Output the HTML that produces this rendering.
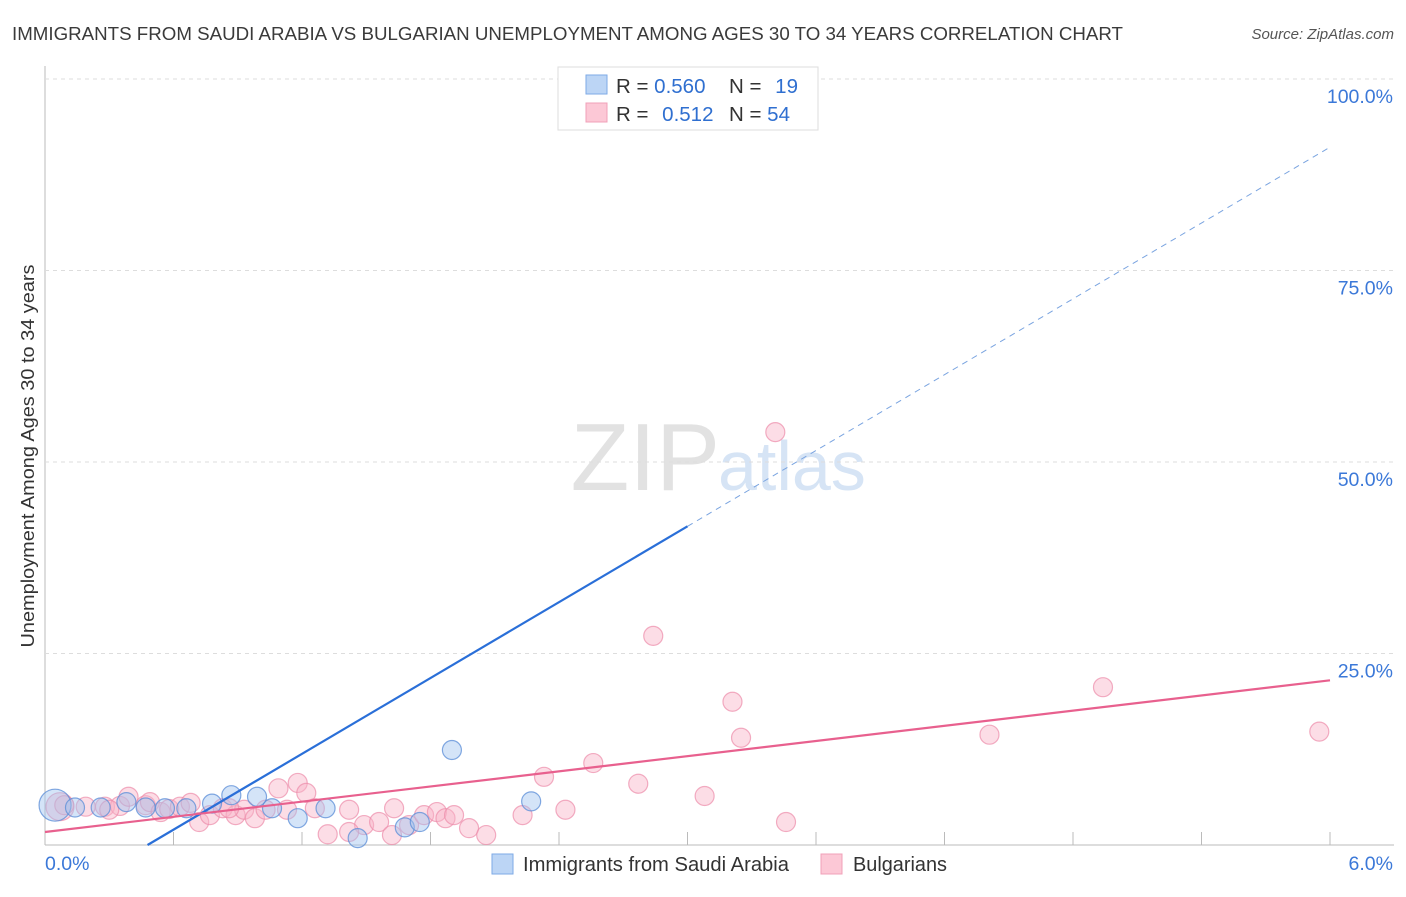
<!DOCTYPE html>
<html><head><meta charset="utf-8"><style>
body{margin:0;background:#fff;font-family:"Liberation Sans",sans-serif;}
svg text{font-family:"Liberation Sans",sans-serif;}
</style></head><body>
<svg id="c" width="1406" height="892">
<text x="12" y="40" font-size="18.5" fill="#3a3a3a" textLength="1111" lengthAdjust="spacingAndGlyphs">IMMIGRANTS FROM SAUDI ARABIA VS BULGARIAN UNEMPLOYMENT AMONG AGES 30 TO 34 YEARS CORRELATION CHART</text>
<text x="1394" y="39" font-size="15" fill="#555" font-style="italic" text-anchor="end">Source: ZipAtlas.com</text>
<text x="720" y="490" font-size="96" fill="#e2e2e2" text-anchor="end" font-family="Liberation Serif">ZIP</text>
<text x="718" y="490" font-size="70" fill="#d6e4f5">atlas</text>
<text transform="translate(34,456) rotate(-90)" font-size="18.5" fill="#333" text-anchor="middle" textLength="383" lengthAdjust="spacingAndGlyphs">Unemployment Among Ages 30 to 34 years</text>
<g id="grid"></g><g id="pts"></g><g id="lines"></g>
<g>
<rect x="558" y="67" width="260" height="63" fill="#fff" stroke="#ddd"/>
<rect x="586" y="75" width="21" height="19" fill="#bcd5f5" stroke="#7eaae6"/>
<rect x="586" y="103" width="21" height="19" fill="#fcc8d6" stroke="#f0a0b8"/>
<text x="616" y="93" font-size="20.5" fill="#333">R = <tspan fill="#2f6fd0">0.560</tspan></text>
<text x="729" y="93" font-size="20.5" fill="#333">N = <tspan fill="#2f6fd0" dx="8">19</tspan></text>
<text x="616" y="121" font-size="20.5" fill="#333">R = <tspan fill="#2f6fd0" dx="8">0.512</tspan></text>
<text x="729" y="121" font-size="20.5" fill="#333">N = <tspan fill="#2f6fd0">54</tspan></text>
</g>
<g>
<rect x="492" y="854" width="21" height="20" fill="#bcd5f5" stroke="#7eaae6"/>
<text x="523" y="871" font-size="20" fill="#333" textLength="266" lengthAdjust="spacingAndGlyphs">Immigrants from Saudi Arabia</text>
<rect x="821" y="854" width="21" height="20" fill="#fcc8d6" stroke="#f0a0b8"/>
<text x="853" y="871" font-size="20" fill="#333" textLength="94" lengthAdjust="spacingAndGlyphs">Bulgarians</text>
</g>
</svg>
<script>
const xTicks=[0,0.6,1.2,1.8,2.4,3.0,3.6,4.2,4.8,5.4,6.0];
const yTicks=[25,50,75,100];
const yTickLabels=["25.0%","50.0%","75.0%","100.0%"];
const xEndLabels=["0.0%","6.0%"];
const saudiX=[0.047,0.14,0.26,0.38,0.47,0.56,0.66,0.78,0.87,0.99,1.06,1.18,1.31,1.46,1.68,1.75,1.90,2.27,2.82];
const saudiY=[5.2,4.9,4.9,5.6,4.9,4.8,4.8,5.4,6.5,6.3,4.8,3.5,4.8,0.9,2.3,3.0,12.4,5.7,100];
const bulgX=[0.07,0.09,0.19,0.28,0.35,0.39,0.47,0.49,0.54,0.58,0.63,0.68,0.72,0.77,0.83,0.89,0.93,0.98,1.03,1.09,1.13,1.18,1.22,1.26,1.32,1.42,1.49,1.56,1.62,1.70,1.77,1.83,1.87,1.91,1.98,2.06,2.23,2.33,2.43,2.56,2.77,2.84,3.08,3.21,3.25,3.41,3.46,4.41,4.94,5.95,1.63,0.86,0.30,1.42];
const bulgY=[5.0,5.2,5.0,5.0,5.1,6.3,5.2,5.6,4.3,4.7,5.0,5.5,3.0,3.9,4.8,3.9,4.6,3.5,4.6,7.4,4.6,8.1,6.8,4.8,1.4,4.6,2.6,3.0,1.3,2.6,3.9,4.3,3.5,3.9,2.2,1.3,3.9,8.9,4.6,10.7,8.0,27.3,6.4,18.7,14.0,53.9,3.0,14.4,20.6,14.8,4.8,4.8,4.6,1.7];
const saudiTrend=[-7.9,16.5];
const bulgTrend=[1.7,3.3];
const X0=45,X1=1330,Y0=845,Y100=79;
const sx=v=>X0+(v/6)*(X1-X0);
const sy=v=>Y0-(v/100)*(Y0-Y100);
const NS="http://www.w3.org/2000/svg";
function mk(tag,attrs,parent){const e=document.createElementNS(NS,tag);for(const k in attrs)e.setAttribute(k,attrs[k]);parent.appendChild(e);return e;}
const grid=document.getElementById('grid');
let ax=mk('line',{x1:X0,y1:66,x2:X0,y2:Y0,stroke:'#bbb'},grid);


let bx=mk('line',{x1:X0,y1:Y0,x2:1394,y2:Y0,stroke:'#bbb'},grid);


yTicks.forEach((t,i)=>{
 let g=mk('line',{x1:X0,y1:sy(t),x2:1394,y2:sy(t),stroke:'#ddd','stroke-dasharray':'4,4'},grid);
 
 
 let l=mk('text',{x:1393,y:sy(t)+24,'font-size':19.5,fill:'#3b78d8','text-anchor':'end'},grid);
 l.textContent=yTickLabels[i];
 
 
});
xTicks.forEach((t,i)=>{
 if(i===0)return;
 let k=mk('line',{x1:sx(t),y1:Y0-13,x2:sx(t),y2:Y0,stroke:'#bbb'},grid);
 
 
});
let xl0=mk('text',{x:45,y:870,'font-size':19.5,fill:'#3b78d8'},grid);xl0.textContent=xEndLabels[0];


let xl1=mk('text',{x:1393,y:870,'font-size':19.5,fill:'#3b78d8','text-anchor':'end'},grid);xl1.textContent=xEndLabels[1];


const pts=document.getElementById('pts');
bulgX.forEach((x,i)=>{
 let c=mk('circle',{cx:sx(x),cy:sy(bulgY[i]),r:i===0?14:9.5,fill:'rgba(248,180,200,0.45)',stroke:'rgba(236,140,170,0.7)','stroke-width':1.2},pts);
 
 
});
saudiX.forEach((x,i)=>{
 let c=mk('circle',{cx:sx(x),cy:sy(saudiY[i]),r:i===0?16:9.5,fill:'rgba(160,196,240,0.45)',stroke:'rgba(90,140,215,0.75)','stroke-width':1.2},pts);
 
 
});
const lines=document.getElementById('lines');
const xs0=-saudiTrend[0]/saudiTrend[1];
const f=(tr,x)=>tr[0]+tr[1]*x;
let b1=mk('line',{x1:sx(xs0),y1:sy(0),x2:sx(3.0),y2:sy(f(saudiTrend,3.0)),stroke:'#2a6fd8','stroke-width':2.2},lines);


let b2=mk('line',{x1:sx(3.0),y1:sy(f(saudiTrend,3.0)),x2:sx(6.0),y2:sy(f(saudiTrend,6.0)),stroke:'#7aa4e0','stroke-width':1,'stroke-dasharray':'6,5'},lines);


let p1=mk('line',{x1:sx(0),y1:sy(f(bulgTrend,0)),x2:sx(6),y2:sy(f(bulgTrend,6)),stroke:'#e8608e','stroke-width':2.2},lines);


</script>
</body></html>
